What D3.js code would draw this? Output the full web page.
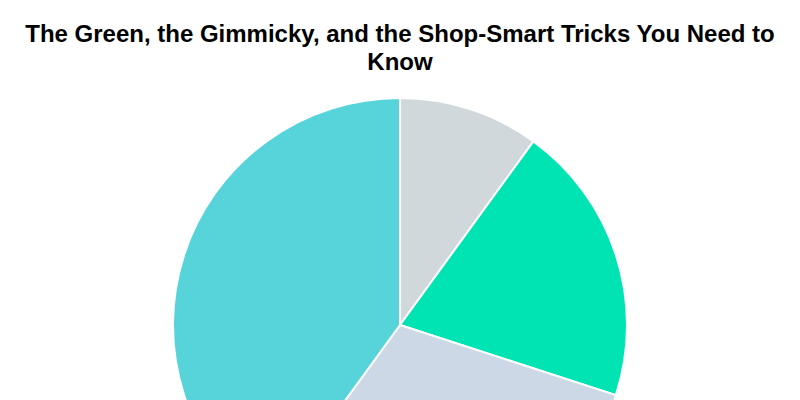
<!DOCTYPE html>
<html>
<head>
<meta charset="utf-8">
<script src="https://cdn.jsdelivr.net/npm/d3@7"></script>
<style>
  html, body { margin: 0; padding: 0; background: #fff; overflow: hidden; }
</style>
</head>
<body>
<svg id="chart" width="800" height="400"></svg>
<script>
// data (slice order clockwise from 12 o'clock)
const categories = ["Eco-friendly", "Gimmicky", "Shop-smart", "Other"];
const shares = [10, 20, 30, 40];
const sliceColors = ["#d0d8db", "#00e3b3", "#ccd8e5", "#56d4da"];
const titleLines = ["The Green, the Gimmicky, and the Shop-Smart Tricks You Need to", "Know"];

const svg = d3.select("#chart");
const width = 800;

svg.append("g")
  .selectAll("text")
  .data(titleLines)
  .join("text")
    .attr("x", width / 2)
    .attr("y", (d, i) => 42 + i * 28)
    .attr("text-anchor", "middle")
    .attr("font-family", "'Liberation Sans', Arial, sans-serif")
    .attr("font-weight", "bold")
    .attr("font-size", 24)
    .attr("fill", "#000")
    .text(d => d);

const color = d3.scaleOrdinal().domain(categories).range(sliceColors);

const pie = d3.pie().sort(null).value(d => d.value);
const arc = d3.arc().innerRadius(0).outerRadius(227);

const slices = pie(categories.map((c, i) => ({ name: c, value: shares[i] })));

svg.append("g")
  .attr("transform", "translate(400,325)")
  .selectAll("path")
  .data(slices)
  .join("path")
    .attr("d", arc)
    .attr("fill", d => color(d.data.name))
    .attr("stroke", "#fff")
    .attr("stroke-width", 2);
</script>
</body>
</html>
